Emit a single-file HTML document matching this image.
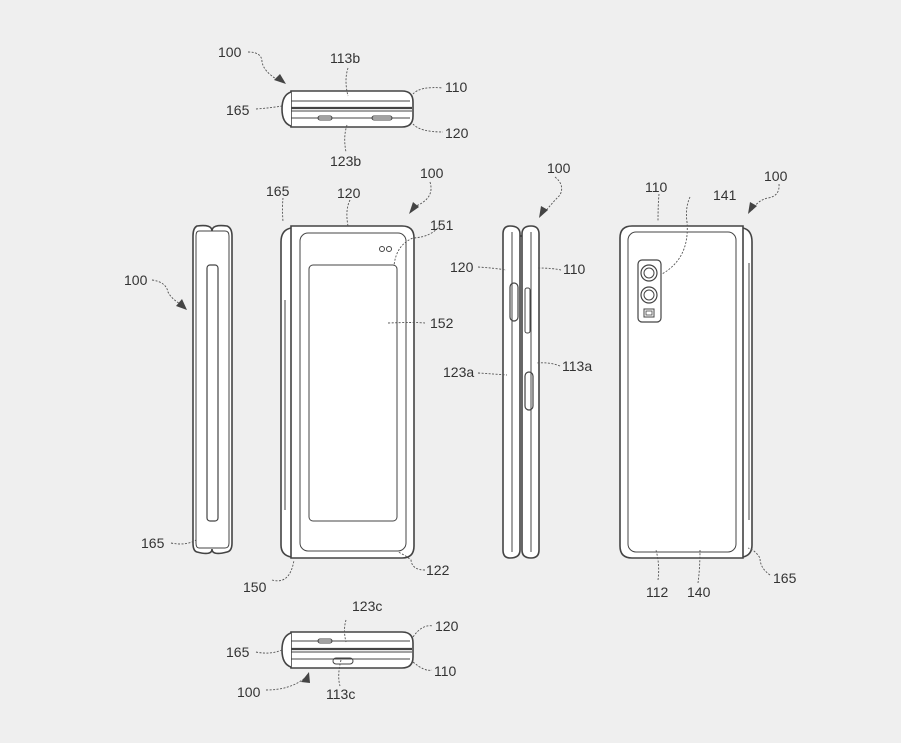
<!DOCTYPE html>
<html><head><style>html,body{margin:0;padding:0;background:#efefef}svg{display:block}</style></head><body>
<svg width="901" height="743" viewBox="0 0 901 743" xmlns="http://www.w3.org/2000/svg">
<rect width="901" height="743" fill="#efefef"/>
<g fill="none" stroke="#444" stroke-width="1.6">
<!-- top view -->
<path d="M291 91 H402 Q413 91 413 102 V116 Q413 127 402 127 H291 Z" fill="#fff"/>
<path d="M291 92 Q282 95 282 109 Q282 123 291 126" fill="#fff"/>
<line x1="291" y1="101" x2="410" y2="101" stroke-width="1"/>
<line x1="291" y1="108" x2="412" y2="108" stroke-width="2.2"/>
<line x1="291" y1="111" x2="412" y2="111" stroke-width="1"/>
<line x1="291" y1="118" x2="410" y2="118" stroke-width="1"/>
<rect x="318" y="116" width="14" height="4" rx="2" stroke-width="1"/>
<rect x="372" y="116" width="20" height="4" rx="2" stroke-width="1"/>
<!-- bottom view -->
<path d="M291 632 H402 Q413 632 413 643 V657 Q413 668 402 668 H291 Z" fill="#fff"/>
<path d="M291 633 Q282 636 282 650 Q282 664 291 667" fill="#fff"/>
<line x1="291" y1="641" x2="410" y2="641" stroke-width="1"/>
<line x1="291" y1="649" x2="412" y2="649" stroke-width="2.2"/>
<line x1="291" y1="652" x2="412" y2="652" stroke-width="1"/>
<line x1="291" y1="659" x2="410" y2="659" stroke-width="1"/>
<rect x="318" y="639" width="14" height="4" rx="2" stroke-width="1"/>
<rect x="333" y="658" width="20" height="6" rx="3" stroke-width="1"/>
<!-- left side view -->
<path d="M197 226 Q212 224 212 231 Q212 224 227 226 Q232 228 232 236 V543 Q232 551 227 552 Q212 556 212 549 Q212 556 197 552 Q193 551 193 543 V236 Q193 228 197 226 Z" fill="#fff"/>
<path d="M199 231 H225 Q229 231 229 236 V543 Q229 548 225 548 H199 Q196 548 196 543 V236 Q196 231 199 231 Z" stroke-width="1"/>
<rect x="207" y="265" width="11" height="256" rx="3" stroke-width="1.2"/>
<!-- front view -->
<path d="M291 228 Q281 230 281 242 V545 Q281 555 291 557" fill="#fff"/>
<line x1="285" y1="300" x2="285" y2="510" stroke-width="1"/>
<path d="M291 226 H402 Q414 226 414 238 V546 Q414 558 402 558 H291 Z" fill="#fff"/>
<rect x="300" y="233" width="106" height="318" rx="8" stroke-width="1"/>
<rect x="309" y="265" width="88" height="256" rx="4" stroke-width="1"/>
<circle cx="382" cy="249" r="2.5" stroke-width="1"/>
<circle cx="389" cy="249" r="2.5" stroke-width="1"/>
<!-- right side view -->
<path d="M510 226 Q520 226 520 234 V550 Q520 558 510 558 Q503 558 503 550 V234 Q503 226 510 226 Z" fill="#fff"/>
<path d="M531 226 Q539 226 539 234 V550 Q539 558 531 558 Q522 558 522 550 V234 Q522 226 531 226 Z" fill="#fff"/>
<line x1="520" y1="236" x2="522" y2="236" stroke-width="2"/>
<line x1="512" y1="232" x2="512" y2="552" stroke-width="1"/>
<line x1="531" y1="232" x2="531" y2="552" stroke-width="1"/>
<rect x="510" y="283" width="8" height="38" rx="4" stroke-width="1.2"/>
<rect x="525" y="288" width="5" height="45" rx="2" stroke-width="1"/>
<rect x="525" y="372" width="8" height="38" rx="4" stroke-width="1.2"/>
<!-- back view -->
<path d="M743 228 Q752 230 752 242 V545 Q752 555 743 557" fill="#fff"/>
<line x1="749" y1="263" x2="749" y2="520" stroke-width="1"/>
<path d="M632 226 H743 V558 H632 Q620 558 620 546 V238 Q620 226 632 226 Z" fill="#fff"/>
<rect x="628" y="232" width="108" height="320" rx="8" stroke-width="1"/>
<rect x="638" y="260" width="23" height="62" rx="4" stroke-width="1.2"/>
<circle cx="649" cy="273" r="8" stroke-width="1.2"/><circle cx="649" cy="273" r="5" stroke-width="1"/>
<circle cx="649" cy="295" r="8" stroke-width="1.2"/><circle cx="649" cy="295" r="5" stroke-width="1"/>
<rect x="644" y="309" width="10" height="8" stroke-width="1"/><rect x="646" y="311" width="6" height="4" stroke-width="0.8"/>
</g>
<!-- leader lines -->
<g fill="none" stroke="#555" stroke-width="0.9" stroke-dasharray="2 1.5">
<path d="M248 52 Q262 52 262 62 Q264 72 278 80"/>
<path d="M256 109 Q270 108 282 106"/>
<path d="M348 68 Q344 80 348 96"/>
<path d="M413 94 Q420 86 443 88"/>
<path d="M413 124 Q420 132 443 132"/>
<path d="M347 125 Q343 137 346 152"/>
<path d="M346 620 Q343 630 346 642"/>
<path d="M413 637 Q422 624 433 626"/>
<path d="M256 652 Q270 655 282 650"/>
<path d="M413 662 Q425 672 432 670"/>
<path d="M341 660 Q337 676 340 686"/>
<path d="M266 690 Q290 690 305 678"/>
<path d="M152 280 Q166 282 168 292 Q172 300 184 306"/>
<path d="M171 543 Q186 546 196 540"/>
<path d="M283 198 Q282 208 283 222"/>
<path d="M350 200 Q345 210 348 226"/>
<path d="M430 182 Q435 198 416 206"/>
<path d="M440 225 Q432 237 413 238 Q396 245 394 266"/>
<path d="M425 323 Q414 322 388 323"/>
<path d="M272 580 Q290 585 294 560"/>
<path d="M425 570 Q412 570 411 560 Q405 555 398 552"/>
<path d="M555 177 Q565 185 560 195 Q552 203 545 212"/>
<path d="M478 267 Q494 268 506 270"/>
<path d="M561 270 Q552 268 538 268"/>
<path d="M478 373 Q494 374 507 375"/>
<path d="M560 366 Q550 362 537 363"/>
<path d="M659 194 Q658 205 658 222"/>
<path d="M690 197 Q685 208 687 222 Q690 258 662 274"/>
<path d="M779 184 Q780 196 768 198 Q758 200 752 210"/>
<path d="M658 580 Q660 565 656 550"/>
<path d="M698 583 Q700 568 700 550"/>
<path d="M770 575 Q760 568 760 558 Q755 550 748 548"/>
</g>
<!-- arrowheads -->
<g fill="#444">
<polygon points="286,84 274,80 280,74"/>
<polygon points="187,310 176,306 182,299"/>
<polygon points="409,214 413,202 419,207"/>
<polygon points="539,218 541,206 548,210"/>
<polygon points="748,214 750,202 757,206"/>
<polygon points="309,672 301,682 310,683"/>
</g>
<g font-family="Liberation Sans, sans-serif" font-size="14" fill="#333">
<text x="218" y="57">100</text>
<text x="330" y="63">113b</text>
<text x="445" y="92">110</text>
<text x="226" y="115">165</text>
<text x="445" y="138">120</text>
<text x="330" y="166">123b</text>
<text x="266" y="196">165</text>
<text x="337" y="198">120</text>
<text x="420" y="178">100</text>
<text x="430" y="230">151</text>
<text x="430" y="328">152</text>
<text x="124" y="285">100</text>
<text x="141" y="548">165</text>
<text x="243" y="592">150</text>
<text x="426" y="575">122</text>
<text x="547" y="173">100</text>
<text x="450" y="272">120</text>
<text x="563" y="274">110</text>
<text x="443" y="377">123a</text>
<text x="562" y="371">113a</text>
<text x="645" y="192">110</text>
<text x="713" y="200">141</text>
<text x="764" y="181">100</text>
<text x="646" y="597">112</text>
<text x="687" y="597">140</text>
<text x="773" y="583">165</text>
<text x="352" y="611">123c</text>
<text x="435" y="631">120</text>
<text x="226" y="657">165</text>
<text x="434" y="676">110</text>
<text x="237" y="697">100</text>
<text x="326" y="699">113c</text>
</g>
</svg>
</body></html>
